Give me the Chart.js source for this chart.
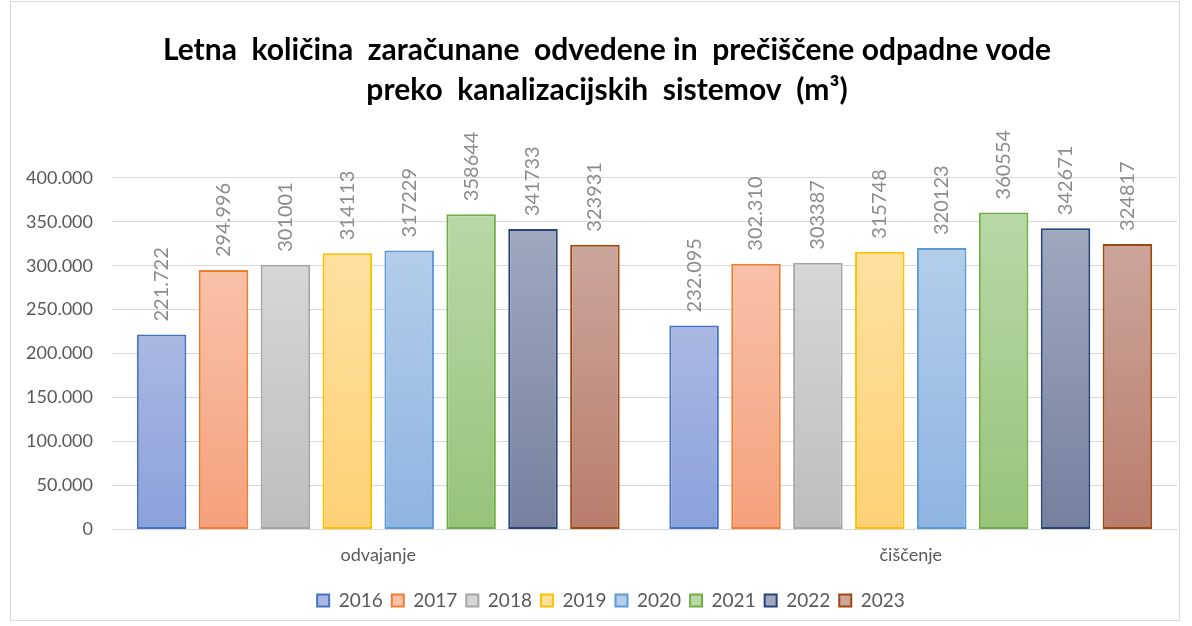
<!DOCTYPE html>
<html>
<head>
<meta charset="utf-8">
<script src="https://cdn.jsdelivr.net/npm/chart.js@4.4.0/dist/chart.umd.min.js"></script>
<style>
  html, body { margin: 0; padding: 0; background: #fff; }
  #box { position: absolute; left: 10px; top: 1px; width: 1170px; height: 620px; border: 1px solid #d9d9d9; box-sizing: border-box; }
  canvas { display: block; }
</style>
</head>
<body>
<div id="box"><canvas id="chart" width="1168" height="618"></canvas></div>
<script>
// kategorije in leta
const categories = ['odvajanje', 'čiščenje'];
const years = ['2016', '2017', '2018', '2019', '2020', '2021', '2022', '2023'];

// vrednosti po letih [odvajanje, čiščenje]
const v2016 = [221722, 232095];
const v2017 = [294996, 302310];
const v2018 = [301001, 303387];
const v2019 = [314113, 315748];
const v2020 = [317229, 320123];
const v2021 = [358644, 360554];
const v2022 = [341733, 342671];
const v2023 = [323931, 324817];

// oznake nad stolpci, kot so zapisane v originalu
const l2016 = ['221.722', '232.095'];
const l2017 = ['294.996', '302.310'];
const l2018 = ['301001', '303387'];
const l2019 = ['314113', '315748'];
const l2020 = ['317229', '320123'];
const l2021 = ['358644', '360554'];
const l2022 = ['341733', '342671'];
const l2023 = ['323931', '324817'];

const yTicks = [0, 50000, 100000, 150000, 200000, 250000, 300000, 350000, 400000];

const values = [v2016, v2017, v2018, v2019, v2020, v2021, v2022, v2023];
const labelsTxt = [l2016, l2017, l2018, l2019, l2020, l2021, l2022, l2023];

// barve: obroba, vrh, dno
const borders = ['#4472C4', '#ED7D31', '#A5A5A5', '#FFC000', '#5B9BD5', '#70AD47', '#264478', '#9E480E'];
const tops    = ['#aab8e2', '#f8c1a8', '#d6d6d6', '#fee09f', '#b3cdea', '#b8d8a6', '#a0a8bf', '#cca59b'];
const bottoms = ['#8aa1da', '#f5a07c', '#bdbdbd', '#fdd176', '#8eb4e1', '#97c37a', '#74809d', '#b87d6c'];

const FONT = 'Lato, "Liberation Sans", sans-serif';

function barFill(i) {
  return function(ctx) {
    const chart = ctx.chart;
    if (!chart.chartArea || ctx.type !== 'data') return tops[i];
    const y = chart.scales.y;
    const top = y.getPixelForValue(ctx.raw);
    const bot = y.getPixelForValue(0);
    const g = chart.ctx.createLinearGradient(0, top, 0, bot);
    g.addColorStop(0, tops[i]);
    g.addColorStop(1, bottoms[i]);
    return g;
  };
}

const datasets = years.map(function(yr, i) {
  return {
    label: yr,
    data: values[i],
    backgroundColor: barFill(i),
    borderColor: borders[i],
    borderWidth: 2,
    borderSkipped: false,
    categoryPercentage: 0.93,
    barPercentage: 0.8
  };
});

const valueLabels = {
  id: 'valueLabels',
  afterDatasetsDraw(chart) {
    const c = chart.ctx;
    c.save();
    c.font = '20px ' + FONT;
    c.fillStyle = '#8c8c8c';
    c.textAlign = 'left';
    c.textBaseline = 'middle';
    chart.data.datasets.forEach(function(ds, i) {
      chart.getDatasetMeta(i).data.forEach(function(bar, j) {
        c.save();
        c.translate(bar.x, bar.y - 13);
        c.rotate(-Math.PI / 2);
        c.fillText(labelsTxt[i][j], 0, 0);
        c.restore();
      });
    });
    c.restore();
  }
};

// naslov in legenda sta v originalu malo desno od sredine
const shiftBlocks = {
  id: 'shiftBlocks',
  afterLayout(chart) {
    chart.titleBlock.left += 13;
    chart.titleBlock.right += 13;
    chart.legend.left += 17;
    chart.legend.right += 17;
  }
};

new Chart(document.getElementById('chart').getContext('2d'), {
  type: 'bar',
  data: { labels: categories, datasets: datasets },
  options: {
    responsive: false,
    animation: false,
    layout: { padding: { left: 0, right: 2, top: 28, bottom: 0 } },
    plugins: {
      title: {
        display: true,
        text: ['Letna  količina  zaračunane  odvedene in  prečiščene odpadne vode', 'preko  kanalizacijskih  sistemov  (m³)'],
        color: '#000',
        font: { family: FONT, size: 30, weight: 'bold', lineHeight: 1.33 },
        padding: { top: 0, bottom: 68 }
      },
      legend: {
        position: 'bottom',
        labels: {
          boxWidth: 12,
          boxHeight: 12,
          color: '#595959',
          font: { family: FONT, size: 19 },
          padding: 9,
          generateLabels: function(chart) {
            return years.map(function(yr, i) {
              return { text: yr, fillStyle: tops[i], strokeStyle: borders[i], lineWidth: 2, datasetIndex: i, fontColor: '#595959' };
            });
          }
        }
      },
      tooltip: { enabled: false }
    },
    scales: {
      x: {
        grid: { display: false },
        border: { color: '#d9d9d9', width: 1 },
        afterFit: function(axis) { axis.height += 9; },
        ticks: { color: '#595959', font: { family: FONT, size: 18 }, padding: 7 }
      },
      y: {
        min: 0,
        max: 400000,
        afterBuildTicks: function(axis) { axis.ticks = yTicks.map(function(v) { return { value: v }; }); },
        afterFit: function(axis) { axis.width = 101; },
        grid: { color: '#d9d9d9', drawTicks: false },
        border: { display: false },
        ticks: {
          color: '#595959',
          padding: 19,
          font: { family: FONT, size: 18 },
          callback: function(v) { return v === 0 ? '0' : v.toLocaleString('de-DE'); }
        }
      }
    }
  },
  plugins: [valueLabels, shiftBlocks]
});
</script>
</body>
</html>
